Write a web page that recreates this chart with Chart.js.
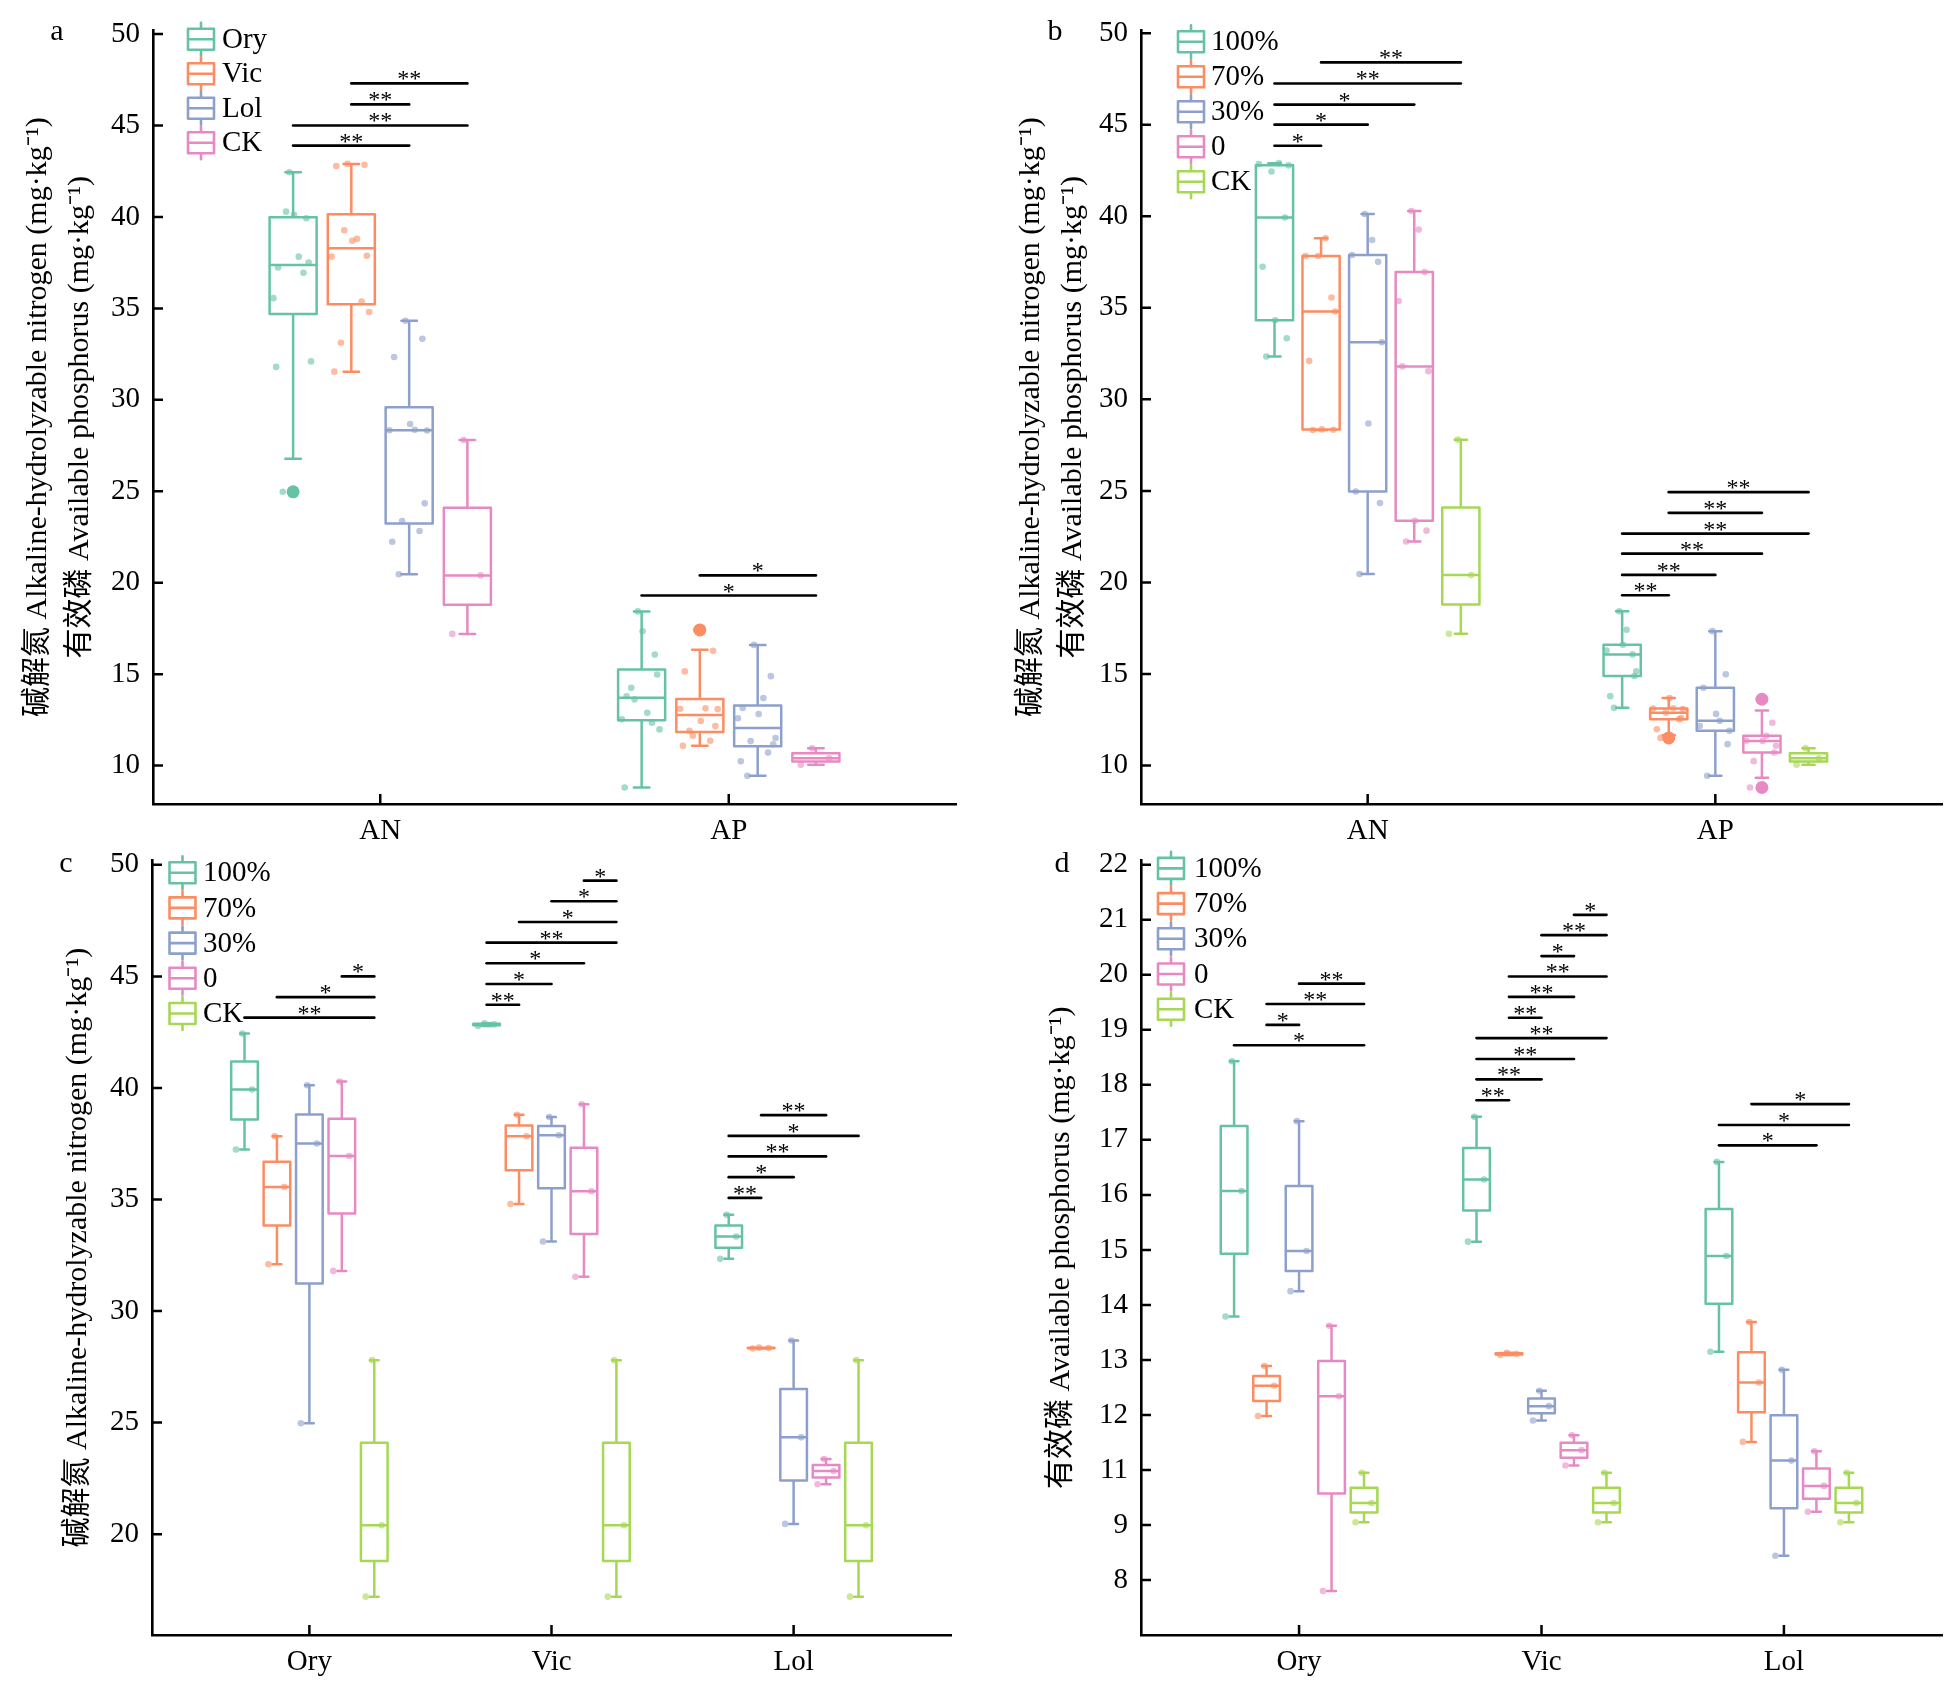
<!DOCTYPE html>
<html lang="en">
<head>
    <meta charset="UTF-8">
    <title>AN / AP box plots</title>
    <style>
        body { margin: 0; background: #fff; }
        #figure { position: relative; width: 1960px; height: 1695px; background: #fff; }
        #figure canvas { position: absolute; }
    </style>
    <script src="https://cdn.jsdelivr.net/npm/chart.js"></script>
</head>
<body>
<div id="figure">
    <canvas id="panelA" width="980" height="865" style="left:0;top:0"></canvas>
    <canvas id="panelB" width="980" height="865" style="left:980px;top:0"></canvas>
    <canvas id="panelC" width="980" height="865" style="left:0;top:830px"></canvas>
    <canvas id="panelD" width="980" height="865" style="left:980px;top:830px"></canvas>
</div>

<script>
    // categories
    const species = ['Ory', 'Vic', 'Lol'];
    const nutrients = ['AN', 'AP'];
    const speciesSeries = ['Ory', 'Vic', 'Lol', 'CK'];
    const proportionSeries = ['100%', '70%', '30%', '0', 'CK'];

    // 碱解氮 AN (mg/kg), 3 replicates for 100%, 70%, 30%, 0
    const anOry = [[37.24, 39.93, 42.44], [32.1, 35.56, 37.83], [24.97, 37.51, 40.12], [31.8, 36.95, 40.29]];
    const anVic = [[42.78, 42.85, 42.9], [34.8, 37.83, 38.8], [33.12, 37.88, 38.7], [31.54, 35.37, 39.27]];
    const anLol = [[32.34, 33.34, 34.32], [28.32, 28.34, 28.36], [20.46, 24.34, 28.68], [22.24, 22.83, 23.37]];
    const anCK = [17.2, 20.4, 27.8];

    // 有效磷 AP (mg/kg)
    const apOry = [[13.79, 16.07, 18.43], [11.98, 12.53, 12.89], [14.25, 14.98, 17.34], [8.8, 12.34, 13.62]];
    const apVic = [[15.15, 16.28, 17.42], [13.09, 13.11, 13.13], [11.9, 12.16, 12.44], [11.08, 11.36, 11.63]];
    const apLol = [[13.15, 14.89, 16.6], [11.51, 12.59, 13.69], [9.44, 11.17, 12.82], [10.24, 10.71, 11.34]];
    const apCK = [10.05, 10.4, 10.95];

    // y ticks (panel d is labelled 8, 9 at the 9, 10 positions, as in the figure)
    const yTicksAB = [10, 15, 20, 25, 30, 35, 40, 45, 50];
    const yLabelsAB = ['10', '15', '20', '25', '30', '35', '40', '45', '50'];
    const yTicksC = [20, 25, 30, 35, 40, 45, 50];
    const yLabelsC = ['20', '25', '30', '35', '40', '45', '50'];
    const yTicksD = [9, 10, 11, 12, 13, 14, 15, 16, 17, 18, 19, 20, 21, 22];
    const yLabelsD = ['8', '9', '11', '12', '13', '14', '15', '16', '17', '18', '19', '20', '21', '22'];

    // significance: [category, from series, to series, y value, label]
    const aBrackets = [
        [0, 1, 3, 47.3, '**'], [0, 1, 2, 46.15, '**'], [0, 0, 3, 45.0, '**'], [0, 0, 2, 43.9, '**'],
        [1, 1, 3, 20.4, '*'], [1, 0, 3, 19.3, '*']
    ];
    const bBrackets = [
        [0, 1, 4, 48.4, '**'], [0, 0, 4, 47.25, '**'], [0, 0, 3, 46.1, '*'], [0, 0, 2, 45.0, '*'], [0, 0, 1, 43.85, '*'],
        [1, 1, 4, 24.93, '**'], [1, 1, 3, 23.8, '**'], [1, 0, 4, 22.67, '**'], [1, 0, 3, 21.57, '**'],
        [1, 0, 2, 20.41, '**'], [1, 0, 1, 19.3, '**']
    ];
    const cBrackets = [
        [0, 3, 4, 45.0, '*'], [0, 1, 4, 44.07, '*'], [0, 0, 4, 43.15, '**'],
        [1, 3, 4, 49.29, '*'], [1, 2, 4, 48.37, '*'], [1, 1, 4, 47.44, '*'], [1, 0, 4, 46.51, '**'],
        [1, 0, 3, 45.59, '*'], [1, 0, 2, 44.66, '*'], [1, 0, 1, 43.73, '**'],
        [2, 1, 3, 38.78, '**'], [2, 0, 4, 37.85, '*'], [2, 0, 3, 36.93, '**'], [2, 0, 2, 36.0, '*'], [2, 0, 1, 35.07, '**']
    ];
    const dBrackets = [
        [0, 2, 4, 19.84, '**'], [0, 1, 4, 19.47, '**'], [0, 1, 2, 19.09, '*'], [0, 0, 4, 18.72, '*'],
        [1, 3, 4, 21.09, '*'], [1, 2, 4, 20.72, '**'], [1, 2, 3, 20.34, '*'], [1, 1, 4, 19.97, '**'],
        [1, 1, 3, 19.6, '**'], [1, 1, 2, 19.22, '**'], [1, 0, 4, 18.85, '**'], [1, 0, 3, 18.47, '**'],
        [1, 0, 2, 18.1, '**'], [1, 0, 1, 17.72, '**'],
        [2, 1, 4, 17.65, '*'], [2, 0, 4, 17.27, '*'], [2, 0, 3, 16.9, '*']
    ];

    const seriesColors = ['#66c2a5', '#fc8d62', '#8da0cb', '#e78ac3', '#a6d854'];
    const serif = "'Liberation Serif', 'Times New Roman', 'Noto Sans CJK SC', serif";
    const jitter = [-0.32, 0.28, -0.08, 0.38, -0.42, 0.12, -0.22, 0.33, 0.02, -0.36, 0.22, -0.15];

    const anBySpecies = [anOry, anVic, anLol];
    const apBySpecies = [apOry, apVic, apLol];

    // linear-interpolated quartiles, whiskers capped at 1.5 IQR
    function quantile(sorted, p) {
        const h = (sorted.length - 1) * p;
        const lo = Math.floor(h), hi = Math.ceil(h);
        return sorted[lo] + (h - lo) * (sorted[hi] - sorted[lo]);
    }
    function boxStats(values) {
        const s = values.slice().sort((a, b) => a - b);
        const q1 = quantile(s, 0.25), med = quantile(s, 0.5), q3 = quantile(s, 0.75);
        const iqr = q3 - q1;
        const lowFence = q1 - 1.5 * iqr, highFence = q3 + 1.5 * iqr;
        return {
            q1, med, q3,
            lo: Math.max(s[0], lowFence),
            hi: Math.min(s[s.length - 1], highFence),
            outliers: s.filter(v => v < lowFence || v > highFence)
        };
    }

    const titleAN = '碱解氮 Alkaline-hydrolyzable nitrogen (mg·kg⁻¹)';
    const titleAP = '有效磷 Available phosphorus (mg·kg⁻¹)';

    const panels = [
        {
            id: 'panelA', letter: 'a', letterPos: [57, 40], size: [980, 865],
            area: { left: 153, right: 956, top: 27, bottom: 804 },
            yMin: 7.9, yMax: 50.2, xMin: -0.652, xMax: 1.652,
            yTicks: yTicksAB, yLabels: yLabelsAB, categories: nutrients, series: speciesSeries,
            offsets: [-0.25, -0.083, 0.083, 0.25], boxWidth: 0.135,
            values: (c, s) => s < 3 ? [].concat(...(c === 0 ? anBySpecies : apBySpecies)[s]) : (c === 0 ? anCK : apCK),
            brackets: aBrackets, yTitle: [titleAN, titleAP], titlePad: 18,
            legend: { iconX: 201, textX: 222, y0: 39.3, dy: 34.5 }
        },
        {
            id: 'panelB', letter: 'b', letterPos: [75, 40], size: [980, 865],
            area: { left: 161, right: 962, top: 24, bottom: 804 },
            yMin: 7.9, yMax: 50.15, xMin: -0.652, xMax: 1.652,
            yTicks: yTicksAB, yLabels: yLabelsAB, categories: nutrients, series: proportionSeries,
            offsets: [-0.268, -0.134, 0, 0.134, 0.268], boxWidth: 0.107,
            values: (c, s) => s < 4 ? [].concat(...(c === 0 ? anBySpecies : apBySpecies).map(g => g[s])) : (c === 0 ? anCK : apCK),
            brackets: bBrackets, yTitle: [titleAN, titleAP], titlePad: 31,
            legend: { iconX: 211, textX: 231, y0: 41.8, dy: 35 }
        },
        {
            id: 'panelC', letter: 'c', letterPos: [66, 42], size: [980, 865],
            area: { left: 152, right: 951, top: 29, bottom: 805 },
            yMin: 15.48, yMax: 50.2, xMin: -0.65, xMax: 2.65,
            yTicks: yTicksC, yLabels: yLabelsC, categories: species, series: proportionSeries,
            offsets: [-0.268, -0.134, 0, 0.134, 0.268], boxWidth: 0.11,
            values: (c, s) => s < 4 ? anBySpecies[c][s] : anCK,
            brackets: cBrackets, yTitle: titleAN, titlePad: 58,
            legend: { iconX: 182.5, textX: 203, y0: 42.7, dy: 35.2 }
        },
        {
            id: 'panelD', letter: 'd', letterPos: [82, 42], size: [980, 865],
            area: { left: 161, right: 962, top: 26, bottom: 805 },
            yMin: 8.0, yMax: 22.08, xMin: -0.652, xMax: 2.652,
            yTicks: yTicksD, yLabels: yLabelsD, categories: species, series: proportionSeries,
            offsets: [-0.268, -0.134, 0, 0.134, 0.268], boxWidth: 0.11,
            values: (c, s) => s < 4 ? apBySpecies[c][s] : apCK,
            brackets: dBrackets, yTitle: titleAP, titlePad: 61,
            legend: { iconX: 191, textX: 214, y0: 38.4, dy: 35.2 }
        }
    ];

    function overlayPlugin(p, boxes) {
        return {
            id: 'overlay_' + p.id,
            afterDatasetsDraw(chart) {
                const { ctx, chartArea, scales: { x, y } } = chart;
                ctx.save();
                // boxes
                ctx.lineWidth = 2.5;
                ctx.lineJoin = 'round';
                ctx.lineCap = 'round';
                boxes.forEach(b => {
                    const cx = x.getPixelForValue(b.x);
                    const hw = (x.getPixelForValue(b.x + p.boxWidth / 2) - x.getPixelForValue(b.x - p.boxWidth / 2)) / 2;
                    const cap = hw * 0.33;
                    const yq1 = y.getPixelForValue(b.st.q1), yq3 = y.getPixelForValue(b.st.q3);
                    const ymed = y.getPixelForValue(b.st.med);
                    const ylo = y.getPixelForValue(b.st.lo), yhi = y.getPixelForValue(b.st.hi);
                    ctx.strokeStyle = b.color;
                    ctx.beginPath();
                    ctx.rect(cx - hw, yq3, hw * 2, yq1 - yq3);
                    ctx.moveTo(cx - hw, ymed); ctx.lineTo(cx + hw, ymed);
                    ctx.moveTo(cx, yq3); ctx.lineTo(cx, yhi);
                    ctx.moveTo(cx - cap, yhi); ctx.lineTo(cx + cap, yhi);
                    ctx.moveTo(cx, yq1); ctx.lineTo(cx, ylo);
                    ctx.moveTo(cx - cap, ylo); ctx.lineTo(cx + cap, ylo);
                    ctx.stroke();
                });

                // significance brackets
                ctx.strokeStyle = '#000';
                ctx.fillStyle = '#000';
                ctx.lineWidth = 2.7;
                ctx.font = '24px ' + serif;
                ctx.textAlign = 'center';
                ctx.textBaseline = 'alphabetic';
                p.brackets.forEach(([c, s1, s2, v, label]) => {
                    const x1 = x.getPixelForValue(c + p.offsets[s1]);
                    const x2 = x.getPixelForValue(c + p.offsets[s2]);
                    const py = y.getPixelForValue(v);
                    ctx.beginPath();
                    ctx.moveTo(x1, py); ctx.lineTo(x2, py);
                    ctx.stroke();
                    ctx.fillText(label, (x1 + x2) / 2, py + 3);
                });

                // inward tick marks
                ctx.lineWidth = 2.5;
                ctx.lineCap = 'butt';
                ctx.beginPath();
                y.ticks.forEach(t => {
                    const py = y.getPixelForValue(t.value);
                    ctx.moveTo(chartArea.left, py); ctx.lineTo(chartArea.left + 10, py);
                });
                x.ticks.forEach(t => {
                    const px = x.getPixelForValue(t.value);
                    ctx.moveTo(px, chartArea.bottom); ctx.lineTo(px, chartArea.bottom - 10);
                });
                ctx.stroke();

                // legend
                const lg = p.legend;
                ctx.lineCap = 'round';
                p.series.forEach((name, s) => {
                    const cy = lg.y0 + s * lg.dy;
                    const w = 26, h = 21;
                    ctx.strokeStyle = seriesColors[s];
                    ctx.lineWidth = 2.6;
                    ctx.beginPath();
                    ctx.rect(lg.iconX - w / 2, cy - h / 2, w, h);
                    ctx.moveTo(lg.iconX - w / 2, cy); ctx.lineTo(lg.iconX + w / 2, cy);
                    ctx.moveTo(lg.iconX, cy - h / 2); ctx.lineTo(lg.iconX, cy - h / 2 - 6);
                    ctx.moveTo(lg.iconX, cy + h / 2); ctx.lineTo(lg.iconX, cy + h / 2 + 6);
                    ctx.stroke();
                    ctx.fillStyle = '#000';
                    ctx.font = '29px ' + serif;
                    ctx.textAlign = 'left';
                    ctx.textBaseline = 'middle';
                    ctx.fillText(name, lg.textX, cy + 1);
                });

                // panel letter
                ctx.font = '30px ' + serif;
                ctx.textAlign = 'center';
                ctx.textBaseline = 'alphabetic';
                ctx.fillText(p.letter, p.letterPos[0], p.letterPos[1]);
                ctx.restore();
            }
        };
    }

    panels.forEach(p => {
        const datasets = [];
        const boxes = [];
        p.series.forEach((name, s) => {
            const dots = [], outs = [];
            p.categories.forEach((cat, c) => {
                const vals = p.values(c, s);
                const bx = c + p.offsets[s];
                const st = boxStats(vals);
                boxes.push({ x: bx, st, color: seriesColors[s] });
                vals.forEach((v, k) => dots.push({ x: bx + jitter[k % jitter.length] * p.boxWidth, y: v }));
                st.outliers.forEach(v => outs.push({ x: bx, y: v }));
            });
            datasets.push({ label: name + ' outliers', data: outs, backgroundColor: seriesColors[s], pointRadius: 6.5, borderWidth: 0 });
            datasets.push({ label: name, data: dots, backgroundColor: seriesColors[s] + '99', pointRadius: 3.3, borderWidth: 0 });
        });

        const [W, H] = p.size;
        new Chart(document.getElementById(p.id), {
            type: 'scatter',
            data: { datasets },
            options: {
                responsive: false,
                animation: false,
                events: [],
                devicePixelRatio: 1,
                layout: { padding: { left: 0, top: p.area.top, right: W - p.area.right, bottom: 0 } },
                plugins: { legend: { display: false }, tooltip: { enabled: false } },
                scales: {
                    x: {
                        type: 'linear', min: p.xMin, max: p.xMax,
                        afterBuildTicks: sc => { sc.ticks = p.categories.map((c, i) => ({ value: i })); },
                        afterFit: sc => { sc.height = H - p.area.bottom; },
                        grid: { display: true, drawOnChartArea: false, drawTicks: false },
                        border: { display: true, color: '#000', width: 2.6 },
                        ticks: {
                            color: '#000', padding: 10, autoSkip: false, maxRotation: 0,
                            font: { family: serif, size: 29 },
                            callback: v => p.categories[v]
                        }
                    },
                    y: {
                        type: 'linear', min: p.yMin, max: p.yMax,
                        afterBuildTicks: sc => { sc.ticks = p.yTicks.map(v => ({ value: v })); },
                        afterFit: sc => { sc.width = p.area.left; },
                        grid: { display: true, drawOnChartArea: false, drawTicks: false },
                        border: { display: true, color: '#000', width: 2.6 },
                        ticks: {
                            color: '#000', padding: 13, autoSkip: false,
                            font: { family: serif, size: 29 },
                            callback: (v, i) => p.yLabels[i]
                        },
                        title: {
                            display: true, text: p.yTitle, color: '#000',
                            font: { family: serif, size: 30, lineHeight: 1.37 },
                            padding: { top: p.titlePad, bottom: 0 }
                        }
                    }
                }
            },
            plugins: [overlayPlugin(p, boxes)]
        });
    });
</script>
</body>
</html>
